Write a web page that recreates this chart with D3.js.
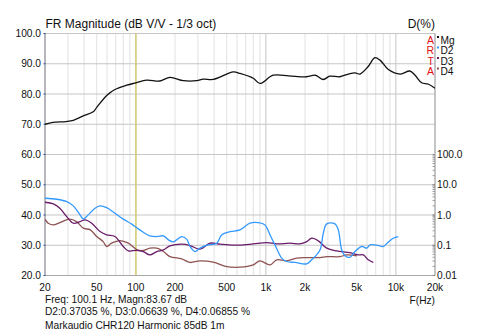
<!DOCTYPE html>
<html><head><meta charset="utf-8">
<script src="https://cdn.jsdelivr.net/npm/d3@7"></script>
<style>
html,body{margin:0;padding:0;background:#fff;}
svg{display:block;font-family:"Liberation Sans",Arial,sans-serif;}
</style></head>
<body><svg id="c" width="480" height="333"></svg>
<script>
// ---- data ----
const xTicks = [20,50,100,200,500,1000,2000,5000,10000,20000];
const xTickLabels = ["20","50","100","200","500","1k","2k","5k","10k","20k"];
const yTicks = [20,30,40,50,60,70,80,90,100];
const pctTicks = [0.01,0.1,1,10,100];
const pctTickLabels = ["0.01","0.1","1.0","10.0","100.0"];

const magFreq = [20,23,29,33,39,47,50,60,69,85,100,121,153,183,232,294,330,394,562,632,800,900,1140,1500,2060,2400,2770,3100,3700,4300,4850,5300,6100,6900,7550,8750,10800,12800,14000,15800,17700,20000];
const magDb   = [70,70.6,70.9,71.3,72.7,74.1,75.6,79.6,81.5,82.9,83.7,84.6,84.3,85.5,84.4,84.4,84.9,84.8,87.3,86.8,85.2,83.5,86.2,86.0,85.7,86.2,84.8,85.9,85.7,86.6,87.0,86.6,89.0,92.0,91.2,88.1,86.6,87.6,86.3,83.7,83.3,81.9];

const d2Freq = [20,24.6,29.4,33,37.2,39.4,43,48.5,53,59.6,69,80,93,101.5,114,128,145,163,178,194,225,246,261,285,311,351,419,457,530,632,755,875,985,1076,1175,1324,1446,1675,2062,2252,2608,2766,2938,3402,3608,3832,4062,4438,4848,5460,5966,6325,7552,8006,8748,9552,10442];
const d2Pct  = [3.58,3.32,2.77,2.0,1.01,0.74,1.01,1.68,2.0,1.75,1.15,0.73,0.50,0.38,0.27,0.204,0.194,0.204,0.151,0.129,0.194,0.159,0.091,0.062,0.080,0.101,0.117,0.22,0.28,0.32,0.54,0.56,0.47,0.22,0.103,0.0375,0.029,0.027,0.0243,0.033,0.070,0.25,0.51,0.51,0.32,0.07,0.045,0.040,0.062,0.091,0.080,0.103,0.095,0.091,0.127,0.171,0.194];

const d3Freq = [20,23.2,26,29.4,33,37.2,40.6,45.7,53,59.6,69,80,87.5,101.5,114,128,145,163,183,225,261,311,372,444,562,632,800,1015,1212,1533,1830,2062,2252,2532,2938,3506,4438,5140,5618,6138,6706];
const d3Pct  = [2.64,2.32,1.68,0.885,0.536,0.605,0.689,0.536,0.283,0.220,0.194,0.091,0.065,0.068,0.062,0.048,0.062,0.070,0.0955,0.109,0.098,0.074,0.117,0.109,0.101,0.101,0.111,0.123,0.111,0.117,0.111,0.132,0.171,0.140,0.080,0.065,0.057,0.048,0.048,0.033,0.027];

const d4Freq = [20,21.2,23.2,26,31,35,39.4,44.6,50,56,59.6,65,75.5,87.5,101.5,114,128,145,163,183,225,261,311,394,500,632,800,900,1076,1212,1446,1726,2062,2608,2938,3716,4188,4998];
const d4Pct  = [0.727,0.536,0.471,0.561,0.727,0.605,0.367,0.322,0.194,0.132,0.091,0.117,0.143,0.117,0.072,0.067,0.080,0.080,0.062,0.042,0.0356,0.027,0.0306,0.0277,0.0198,0.0189,0.0225,0.0306,0.0225,0.033,0.0306,0.0375,0.039,0.039,0.042,0.042,0.048,0.045];

const cursorFreq = 100.1;
const footer = ["Freq: 100.1 Hz, Magn:83.67 dB","D2:0.37035 %, D3:0.06639 %, D4:0.06855 %","Markaudio CHR120 Harmonic 85dB 1m"];
const legendKeys = ["Mg","D2","D3","D4"];
const legendArta = ["A","R","T","A"];
const legendColors = ["#111111","#3399ff","#6a1b6a","#8e5252"];

// ---- layout ----
const L=45, R=435, T=33.5, B=275.5;
const svg = d3.select("#c");
const x = d3.scaleLog().domain([20,20000]).range([L,R]);
const y = d3.scaleLinear().domain([20,100]).range([B,T]);
const yp = d3.scaleLog().domain([0.01,100]).range([B,B-4*(B-T)/8]);

// vertical gridlines
const minor=[];
for (let d=10; d<=10000; d*=10) for (let k=1;k<=9;k++){ const f=d*k; if(f>=20&&f<=20000) minor.push(f); }
svg.append("g").selectAll("line").data(minor).join("line")
  .attr("x1",d=>x(d)).attr("x2",d=>x(d)).attr("y1",T).attr("y2",B)
  .attr("stroke",d=>([100,1000,10000].includes(d)?"#c4c4c4":"#e2e2e2")).attr("stroke-width",1);
// horizontal gridlines
svg.append("g").selectAll("line").data(yTicks).join("line")
  .attr("x1",L).attr("x2",R).attr("y1",d=>y(d)).attr("y2",d=>y(d))
  .attr("stroke","#c6c6c6").attr("stroke-width",1);

// cursor
svg.append("line").attr("x1",x(cursorFreq)).attr("x2",x(cursorFreq)).attr("y1",T).attr("y2",B)
  .attr("stroke","#d6cc66").attr("stroke-width",1.3);

// frame
svg.append("line").attr("x1",L).attr("x2",L).attr("y1",T).attr("y2",B).attr("stroke","#a8a8b0").attr("stroke-width",1.6);
svg.append("line").attr("x1",R).attr("x2",R).attr("y1",T).attr("y2",B).attr("stroke","#a8a8a8").attr("stroke-width",1.2);
svg.append("line").attr("x1",L).attr("x2",R).attr("y1",B).attr("y2",B).attr("stroke","#a8a8a8").attr("stroke-width",1.2);

// left ticks
svg.append("g").selectAll("line").data(yTicks).join("line")
  .attr("x1",L-1.5).attr("x2",L+0.5).attr("y1",d=>y(d)).attr("y2",d=>y(d)).attr("stroke","#334c8c").attr("stroke-width",1);
// right minor ticks
const pmin=[];
for (let d=0.01; d<100; d*=10) for (let k=1;k<=10;k++) pmin.push(+(d*k).toPrecision(3));
svg.append("g").selectAll("line").data(pmin).join("line")
  .attr("x1",R-2.5).attr("x2",R).attr("y1",d=>yp(d)).attr("y2",d=>yp(d)).attr("stroke","#888").attr("stroke-width",0.8);

const txt = (sel,fs)=>sel.attr("font-size",fs).attr("fill","#111");
// left labels
svg.append("g").selectAll("text").data(yTicks).join("text").call(txt,10.2)
  .attr("x",41).attr("y",d=>y(d)+3.7).attr("text-anchor","end").text(d=>d.toFixed(1));
// right labels
svg.append("g").selectAll("text").data(pctTicks).join("text").call(txt,10.2)
  .attr("x",437).attr("y",d=>yp(d)+3.7).attr("text-anchor","start").text((d,i)=>pctTickLabels[i]);
// bottom labels
svg.append("g").selectAll("text").data(xTicks).join("text").call(txt,10.2)
  .attr("x",d=>x(d)).attr("y",290.5).attr("text-anchor","middle").text((d,i)=>xTickLabels[i]);

svg.append("text").call(txt,12).attr("x",45.5).attr("y",28.3).text("FR Magnitude (dB V/V - 1/3 oct)");
svg.append("text").call(txt,12).attr("x",435).attr("y",28).attr("text-anchor","end").text("D(%)");
svg.append("text").call(txt,10.2).attr("x",435).attr("y",304).attr("text-anchor","end").text("F(Hz)");
svg.append("g").selectAll("text").data(footer).join("text").call(txt,10.2)
  .attr("x",45).attr("y",(d,i)=>[303,315,328.5][i]).text(d=>d);

// curves
svg.append("clipPath").attr("id","pc").append("rect").attr("x",L).attr("y",T).attr("width",R-L).attr("height",B-T);
const line = d3.line().curve(d3.curveCatmullRom.alpha(0.5));
const g = svg.append("g").attr("clip-path","url(#pc)");
const series = [
  [d4Freq.map((f,i)=>[x(f),yp(d4Pct[i])]), legendColors[3]],
  [d3Freq.map((f,i)=>[x(f),yp(d3Pct[i])]), legendColors[2]],
  [d2Freq.map((f,i)=>[x(f),yp(d2Pct[i])]), legendColors[1]],
  [magFreq.map((f,i)=>[x(f),y(magDb[i])]), legendColors[0]]
];
series.forEach(([pts,c])=>g.append("path").attr("d",line(pts)).attr("fill","none").attr("stroke",c).attr("stroke-width",1.3));

// legend
const lg = svg.append("g");
legendKeys.forEach((k,i)=>{
  const by = 43.5 + i*10.5;
  lg.append("text").attr("font-size",10.5).attr("fill","#e01010").attr("x",434).attr("y",by).attr("text-anchor","end").text(legendArta[i]);
  lg.append("rect").attr("x",437).attr("y",by-7.5).attr("width",2).attr("height",2).attr("fill",legendColors[i]);
  lg.append("text").call(txt,10.2).attr("x",440.5).attr("y",by).text(k);
});
</script></body></html>
